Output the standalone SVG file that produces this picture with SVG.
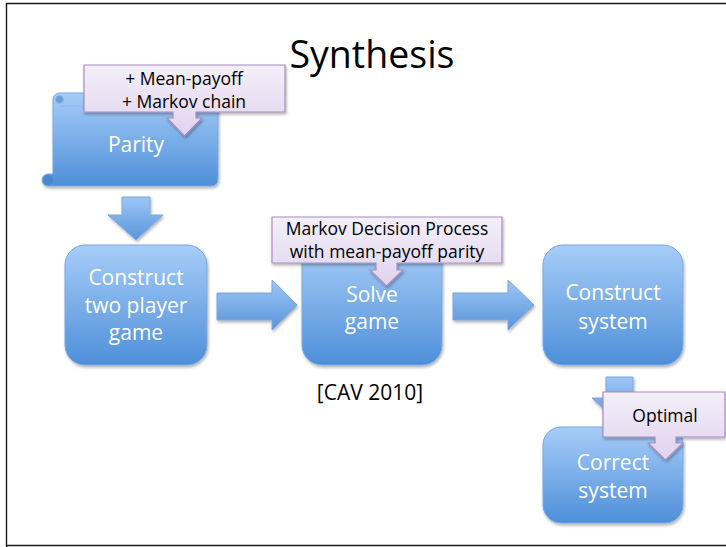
<svg xmlns="http://www.w3.org/2000/svg" width="726" height="547" viewBox="0 0 726 547">
<defs>
<linearGradient id="blue" x1="0" y1="0" x2="0" y2="1">
<stop offset="0" stop-color="#a7cdf8"/>
<stop offset="1" stop-color="#4e8fd9"/>
</linearGradient>
<linearGradient id="blueH" x1="0" y1="0" x2="0" y2="1">
<stop offset="0" stop-color="#9ec6f5"/>
<stop offset="1" stop-color="#5895dc"/>
</linearGradient>
<linearGradient id="lilac" x1="0" y1="0" x2="0" y2="1">
<stop offset="0" stop-color="#f4eff9"/>
<stop offset="1" stop-color="#e0d3ee"/>
</linearGradient>
<filter id="sh" x="-10%" y="-10%" width="130%" height="130%">
<feDropShadow dx="1" dy="2" stdDeviation="1.5" flood-color="#000" flood-opacity="0.3"/>
</filter>
</defs>
<style>
.node{fill:url(#blue);stroke:#7aa8de;stroke-width:1;filter:url(#sh)}
.arrow{fill:url(#blueH);stroke:#7aa8de;stroke-width:1;filter:url(#sh)}
.call{fill:url(#lilac);stroke:#a88cc0;stroke-width:1.2;filter:url(#sh)}
.wt{font-family:"Open Sans","Liberation Sans",sans-serif;font-size:21px;fill:#ffffff;text-anchor:middle}
.bt{font-family:"Open Sans","Liberation Sans",sans-serif;font-size:17.5px;fill:#000000;text-anchor:middle}
.cav{font-family:"Open Sans","Liberation Sans",sans-serif;font-size:21px;fill:#000000;text-anchor:middle}
.title{font-family:"Open Sans","Liberation Sans",sans-serif;font-size:37.5px;fill:#000000;text-anchor:middle}
</style>
<rect x="0" y="0" width="726" height="547" fill="#ffffff"/>
<path d="M6.5,547 V3.5 H726 M6.5,545.5 H726" fill="none" stroke="#1a1a1a" stroke-width="1.4"/>
<text class="title" x="372" y="68">Synthesis</text>

<g id="connectors">
<path class="arrow" d="M122,197 H150 V215 H163 L136,240 L108,215 H122 Z"/>
<path class="arrow" d="M217,293 H272 V280 L297,305 L272,330 V320 H217 Z"/>
<path class="arrow" d="M453,293 H508 V280 L534,305 L508,330 V320 H453 Z"/>
<path class="arrow" d="M606,377 H633 V398 H648 L620,424 L592,398 H606 Z"/>
</g>

<g id="parity">
<path class="node" d="M60,93 H211 Q218,93 218,100 V179 Q218,186 211,186 H48 A6,6 0 0 1 48,174 H53 V99 A6.5,6.5 0 0 1 60,93 Z"/>
<circle cx="59.5" cy="99.5" r="4" fill="#6c9ed9" stroke="#8fb7e6" stroke-width="1"/>
<path d="M60,106 H213" stroke="#8fb7e6" stroke-width="1" fill="none"/>
<circle cx="48" cy="180" r="5" fill="#4a86cf"/>
<text class="wt" x="136" y="152">Parity</text>
</g>

<g id="construct-game">
<rect class="node" x="65" y="245" width="142" height="120" rx="20"/>
<text class="wt" x="136" y="285">Construct</text>
<text class="wt" x="136" y="313">two player</text>
<text class="wt" x="136" y="340">game</text>
</g>

<g id="solve-game">
<rect class="node" x="302" y="245" width="140" height="120" rx="20"/>
<text class="wt" x="372" y="302">Solve</text>
<text class="wt" x="372" y="329">game</text>
</g>

<g id="construct-system">
<rect class="node" x="543" y="245" width="140" height="120" rx="20"/>
<text class="wt" x="613" y="300">Construct</text>
<text class="wt" x="613" y="329">system</text>
</g>

<g id="correct-system">
<rect class="node" x="543" y="427" width="140" height="96" rx="18"/>
<text class="wt" x="613" y="470">Correct</text>
<text class="wt" x="613" y="498">system</text>
</g>

<g id="cav-label">
<text class="cav" x="370" y="400">[CAV 2010]</text>
</g>

<g id="callout-meanpayoff">
<path class="call" d="M84,65 H285 V112 H196 V118 H202 L184.5,136 L167,118 H173 V112 H84 Z"/>
<text class="bt" x="184" y="85">+ Mean-payoff</text>
<text class="bt" x="184" y="108">+ Markov chain</text>
</g>

<g id="callout-mdp">
<path class="call" d="M272,217 H502 V263 H397 V270 H403 L386.5,286 L370,270 H376 V263 H272 Z"/>
<text class="bt" x="387" y="235">Markov Decision Process</text>
<text class="bt" x="387" y="258">with mean-payoff parity</text>
</g>

<g id="callout-optimal">
<path class="call" d="M603,392 H725 V437 H676 V443 H683 L665.5,460 L648,443 H655 V437 H603 Z"/>
<text class="bt" x="665" y="422">Optimal</text>
</g>
</svg>
